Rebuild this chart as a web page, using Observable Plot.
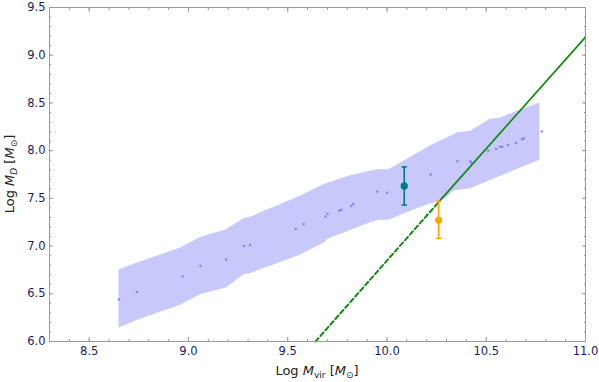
<!DOCTYPE html>
<html><head><meta charset="utf-8">
<script src="https://cdn.jsdelivr.net/npm/d3@7"></script>
<script src="https://cdn.jsdelivr.net/npm/@observablehq/plot@0.6"></script>
<style>body{margin:0;background:#fff;} svg{display:block;}</style>
</head><body><div id="chart"></div>
<script>
// Shaded scatter band (upper and lower edges)
const bandUpperX = [8.65, 8.74, 8.96, 9.06, 9.19, 9.28, 9.31, 9.56, 9.69, 9.82, 9.95, 10.01, 10.22, 10.36, 10.42, 10.52, 10.57, 10.69, 10.77];
const bandUpperY = [6.75, 6.82, 6.98, 7.09, 7.17, 7.29, 7.30, 7.52, 7.65, 7.74, 7.80, 7.80, 8.05, 8.19, 8.20, 8.33, 8.34, 8.44, 8.50];
const bandLowerX = [8.65, 8.74, 8.96, 9.06, 9.19, 9.28, 9.31, 9.56, 9.69, 9.70, 9.90, 9.96, 10.01, 10.16, 10.29, 10.34, 10.42, 10.64, 10.77];
const bandLowerY = [6.14, 6.22, 6.38, 6.49, 6.56, 6.70, 6.71, 6.90, 7.04, 7.07, 7.23, 7.27, 7.27, 7.40, 7.49, 7.58, 7.60, 7.79, 7.90];

// Small scatter points
const pointsX = [8.65, 8.74, 8.97, 9.06, 9.19, 9.28, 9.31, 9.54, 9.58, 9.69, 9.70, 9.76, 9.77, 9.82, 9.83, 9.95, 10.00, 10.22, 10.355, 10.42, 10.425, 10.51, 10.55, 10.57, 10.58, 10.61, 10.65, 10.68, 10.69, 10.78];
const pointsY = [6.44, 6.52, 6.68, 6.79, 6.86, 7.00, 7.01, 7.18, 7.23, 7.31, 7.34, 7.37, 7.38, 7.42, 7.44, 7.57, 7.56, 7.75, 7.89, 7.89, 7.87, 8.00, 8.02, 8.04, 8.04, 8.06, 8.08, 8.12, 8.13, 8.20];

// Green relation: dashed segment then solid segment
const relationX = [9.64, 10.26, 11.0];
const relationY = [6.0, 7.46, 9.19];

// Observed points with error bars
const obsX = [10.087, 10.26];
const obsY = [7.63, 7.27];
const obsLow = [7.43, 7.08];
const obsHigh = [7.83, 7.47];
const obsColor = ["#007b7b", "#ffa500"];

// Ticks
const xMajor = [8.5, 9.0, 9.5, 10.0, 10.5, 11.0];
const yMajor = [6.0, 6.5, 7.0, 7.5, 8.0, 8.5, 9.0, 9.5];
const xMinor = d3.range(83, 111).map(v => v / 10);
const yMinor = d3.range(60, 96).map(v => v / 10);

const band = bandUpperX.map((x, i) => ({ux: x, uy: bandUpperY[i], lx: bandLowerX[i], ly: bandLowerY[i]}));
const points = pointsX.map((x, i) => ({x, y: pointsY[i]}));
const relation = relationX.map((x, i) => ({x, y: relationY[i]}));
const obs = obsX.map((x, i) => ({x, y: obsY[i], lo: obsLow[i], hi: obsHigh[i], c: obsColor[i]}));

const cap = {draw(ctx, size) { const w = Math.sqrt(size / Math.PI); ctx.moveTo(-w, 0); ctx.lineTo(w, 0); }};

const navy = "#1c1c5c";
const gray = "#9a9a9a";
const fmt = d3.format(".1f");

const chart = Plot.plot({
  width: 599, height: 382,
  marginLeft: 49, marginRight: 14, marginTop: 7, marginBottom: 41,
  style: {fontFamily: "DejaVu Sans, sans-serif", fontSize: "11.5px", background: "#fff"},
  x: {domain: [8.3, 11.0], label: null},
  y: {domain: [6.0, 9.5], label: null},
  marks: [
    Plot.area(band, {x1: "ux", y1: "uy", x2: "lx", y2: "ly", fill: "#c8c8fb"}),
    Plot.dot(points, {x: "x", y: "y", r: 1.25, fill: "#7474f4", fillOpacity: 0.8}),
    Plot.line(relation.slice(0, 2), {x: "x", y: "y", stroke: "#108a10", strokeWidth: 2, strokeDasharray: "4.5,3"}),
    Plot.line(relation.slice(1), {x: "x", y: "y", stroke: "#108a10", strokeWidth: 1.7}),
    Plot.ruleX(obs, {x: "x", y1: "lo", y2: "hi", stroke: "c", strokeWidth: 1.6}),
    Plot.dot(obs, {x: "x", y: "lo", symbol: cap, r: 2.6, stroke: "c", strokeWidth: 1.6}),
    Plot.dot(obs, {x: "x", y: "hi", symbol: cap, r: 2.6, stroke: "c", strokeWidth: 1.6}),
    Plot.dot(obs, {x: "x", y: "y", r: 3.6, fill: "c"}),
    Plot.frame({stroke: gray}),
    // bottom axis
    Plot.axisX({anchor: "bottom", ticks: xMinor, tickSize: -2, stroke: gray, fill: "none", label: null}),
    Plot.axisX({anchor: "bottom", ticks: xMajor, tickSize: -4, stroke: gray, fill: "none", label: null}),
    Plot.axisX({anchor: "bottom", ticks: xMajor, tickSize: 0, tickPadding: 5, tickFormat: fmt, fill: navy, label: null}),
    // top axis
    Plot.axisX({anchor: "top", ticks: xMinor, tickSize: -2, stroke: gray, fill: "none", label: null}),
    Plot.axisX({anchor: "top", ticks: xMajor, tickSize: -4, stroke: gray, fill: "none", label: null}),
    // left axis
    Plot.axisY({anchor: "left", ticks: yMinor, tickSize: -2, stroke: gray, fill: "none", label: null}),
    Plot.axisY({anchor: "left", ticks: yMajor, tickSize: -4, stroke: gray, fill: "none", label: null}),
    Plot.axisY({anchor: "left", ticks: yMajor, tickSize: 0, tickPadding: 4, tickFormat: fmt, fill: navy, label: null}),
    // right axis
    Plot.axisY({anchor: "right", ticks: yMinor, tickSize: -2, stroke: gray, fill: "none", label: null}),
    Plot.axisY({anchor: "right", ticks: yMajor, tickSize: -4, stroke: gray, fill: "none", label: null})
  ]
});

document.getElementById("chart").appendChild(chart);

// Axis titles with italic symbols and subscripts
const svg = d3.select(chart);
const xt = svg.append("text")
  .attr("x", 317).attr("y", 375)
  .attr("text-anchor", "middle")
  .attr("font-family", "DejaVu Sans, sans-serif").attr("font-size", 13)
  .attr("fill", "#222");
xt.append("tspan").text("Log ");
xt.append("tspan").attr("font-style", "italic").text("M");
xt.append("tspan").attr("font-size", 9).attr("dy", 3).text("vir");
xt.append("tspan").attr("dy", -3).text(" [");
xt.append("tspan").attr("font-style", "italic").text("M");
xt.append("tspan").attr("font-size", 9).attr("dy", 3).text("⊙");
xt.append("tspan").attr("dy", -3).text("]");

const yt = svg.append("text")
  .attr("transform", "translate(14,174) rotate(-90)")
  .attr("text-anchor", "middle")
  .attr("font-family", "DejaVu Sans, sans-serif").attr("font-size", 13)
  .attr("fill", "#222");
yt.append("tspan").text("Log ");
yt.append("tspan").attr("font-style", "italic").text("M");
yt.append("tspan").attr("font-size", 9).attr("font-style", "italic").attr("dy", 3).text("D");
yt.append("tspan").attr("dy", -3).text(" [");
yt.append("tspan").attr("font-style", "italic").text("M");
yt.append("tspan").attr("font-size", 9).attr("dy", 3).text("⊙");
yt.append("tspan").attr("dy", -3).text("]");
</script>
</body></html>
